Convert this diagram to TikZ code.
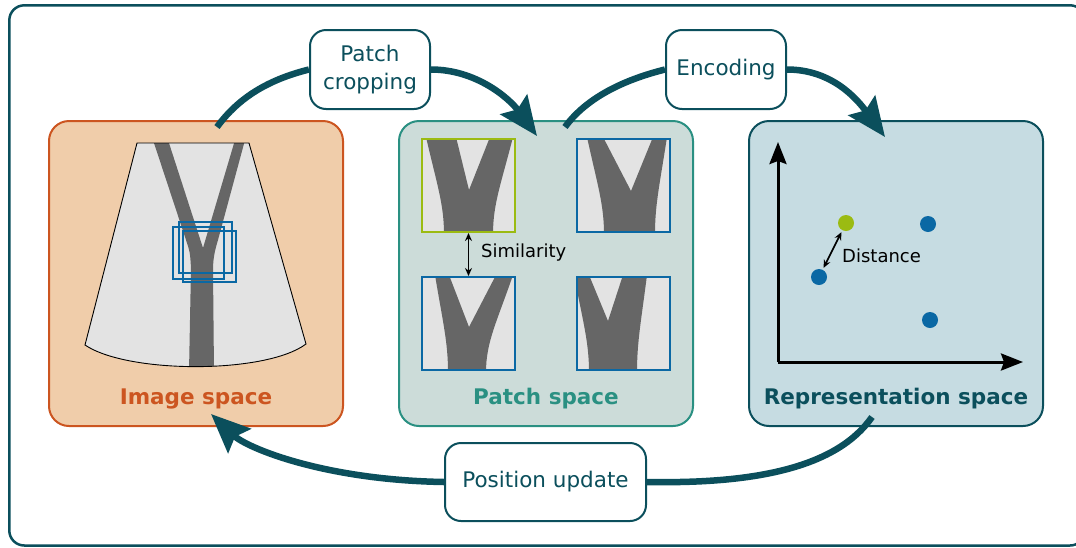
\documentclass[tikz,border=0pt]{standalone}
\usepackage{fontspec}
\setmainfont{DejaVu Sans}
\usetikzlibrary{arrows.meta}

\definecolor{deepteal}{HTML}{0B4F5C}
\definecolor{rust}{HTML}{CC5520}
\definecolor{peach}{HTML}{F0CDAA}
\definecolor{seagreen}{HTML}{2A9082}
\definecolor{mistgreen}{HTML}{CCDCD9}
\definecolor{mistblue}{HTML}{C6DCE2}
\definecolor{lime}{HTML}{9BBB12}
\definecolor{ocean}{HTML}{0A68A4}
\definecolor{vesselgrey}{HTML}{666666}
\definecolor{tissue}{HTML}{E3E3E3}

\tikzset{
  spacebox/.style={rounded corners=20pt, line width=2pt, minimum width=294pt,
    minimum height=305pt, inner sep=0pt},
  stepbox/.style={draw=deepteal, fill=white, rounded corners=16pt, line width=2pt,
    inner sep=0pt, text=deepteal, align=center,
    font=\fontsize{21.5}{28}\selectfont},
  title/.style={anchor=base, font=\fontsize{21.5}{26}\selectfont\bfseries},
  flow/.style={draw=deepteal, line width=6.5pt},
  bigtip/.style={-{Stealth[length=39pt,width=33pt,inset=6pt]}},
  patchframe/.style={draw, line width=2pt, minimum size=93pt, inner sep=0pt},
  vessel/.style={fill=vesselgrey},
  dbl/.style={{Stealth[length=8pt,width=7pt]}-{Stealth[length=8pt,width=7pt]},
    line width=1.6pt, black},
  axis/.style={-{Stealth[length=22pt,width=17pt,inset=3pt]}, line width=3pt, black},
  dot/.style={circle, minimum size=16pt, inner sep=0pt},
  smalltext/.style={font=\fontsize{18}{22}\selectfont, text=black, inner sep=0pt},
}

% one cropped patch: a/b = left branch outer/inner top, (cx,cy) = crotch,
% c/d = right branch inner/outer top, e/f = stem bottom left/right
\newcommand{\vpatch}[8]{%
  \fill[tissue] (0,0) rectangle (93,93);
  \begin{scope}
    \clip (0,0) rectangle (93,93);
    \fill[vessel] (#1,-2) .. controls ({#1+0.6*(#7-#1)},45) and (#7,65) .. (#7,95)
      -- (#8,95) .. controls (#8,65) and ({#6+0.6*(#8-#6)},45) .. (#6,-2)
      -- (#5,-2) -- (#3,#4) -- (#2,-2) -- cycle;
  \end{scope}}

\begin{document}
\begin{tikzpicture}[x=1pt, y=-1pt]
\useasboundingbox (0,0) rectangle (1076,547);

% outer frame
\draw[deepteal, line width=2.5pt, rounded corners=15pt] (9.3,5.3) rectangle (1085,545.5);

% the three spaces
\node[spacebox, draw=rust, fill=peach] (img) at (196,273.5) {};
\node[spacebox, draw=seagreen, fill=mistgreen] (pat) at (546,273.5) {};
\node[spacebox, draw=deepteal, fill=mistblue] (rep) at (896,273.5) {};

\node[title, text=rust] (imgtitle) at (196,404) {Image space};
\node[title, text=seagreen] (pattitle) at (546,404) {Patch space};
\node[title, text=deepteal] (reptitle) at (896,404) {Representation space};

% ultrasound fan with the branching vessel
\begin{scope}
  \clip (137,143) -- (249,143) -- (306,344) .. controls (266,374) and (128,374) .. (85,345) -- cycle;
  \fill[tissue] (0,0) rectangle (400,400);
  \fill[vessel] (153,140) -- (186,240) .. controls (190,252) .. (191,268) -- (189,372)
    -- (214,372) -- (213,270) .. controls (213,258) and (215,250) .. (218,240)
    -- (245,140) -- (235,140) -- (203,248) -- (168,140) -- cycle;
\end{scope}
\draw[black, line width=0.9pt] (137,143) -- (249,143) -- (306,344)
  .. controls (266,374) and (128,374) .. (85,345) -- cycle;

% crop windows on the image
\draw[ocean, line width=1.6pt] (179,222) rectangle (232,273);
\draw[ocean, line width=1.6pt] (173,227) rectangle (224,279);
\draw[ocean, line width=1.6pt] (183,231) rectangle (236,282);

% patches
\begin{scope}[shift={(422,139)}] \vpatch{4}{34}{47}{51}{68}{91}{22}{71} \end{scope}
\begin{scope}[shift={(577,139)}] \vpatch{10}{26}{54}{52}{76}{90}{27}{78} \end{scope}
\begin{scope}[shift={(422,277)}] \vpatch{13}{27}{47}{50}{74}{91}{26}{64} \end{scope}
\begin{scope}[shift={(577,277)}] \vpatch{-3}{12}{31}{44}{46}{70}{12}{60} \end{scope}
\node[patchframe, draw=lime] (p1) at (468.5,185.5) {};
\node[patchframe, draw=ocean] (p2) at (623.5,185.5) {};
\node[patchframe, draw=ocean] (p3) at (468.5,323.5) {};
\node[patchframe, draw=ocean] (p4) at (623.5,323.5) {};

\draw[dbl] (p1.south) -- (p3.north);
\node[smalltext, anchor=west] (simlabel) at (481,253) {Similarity};

% representation space
\coordinate (orig) at (778,362);
\coordinate (ytip) at (778,142);
\coordinate (xtip) at (1023,362);
\draw[axis] (orig) -- (ytip);
\draw[axis] (orig) -- (xtip);

\node[dot, fill=lime] (g) at (846,223) {};
\node[dot, fill=ocean] (b1) at (819,277) {};
\node[dot, fill=ocean] (b2) at (928,224) {};
\node[dot, fill=ocean] (b3) at (930,320) {};
\draw[dbl, shorten <=2pt, shorten >=2pt] (g) -- (b1);
\node[smalltext, anchor=west] (distlabel) at (842,256) {Distance};

% process steps
\node[stepbox, minimum width=120pt, minimum height=79pt] (crop) at (370,69.5) {Patch\\cropping};
\node[stepbox, minimum width=120pt, minimum height=79pt] (enc) at (726,69.5) {Encoding};
\node[stepbox, minimum width=201pt, minimum height=78pt] (pos) at (545.5,482) {Position update};

\coordinate (imgout) at (217,127);
\coordinate (patin) at (537,136);
\coordinate (patout) at (565,127);
\coordinate (repin) at (885,137);
\coordinate (repout) at (872,417);
\coordinate (imgin) at (211,414);

\draw[flow] (imgout) .. controls +(22,-30) and +(-40,10) .. (crop.west);
\draw[flow, bigtip] (crop.east) .. controls +(45,0) and +(-28,-38) .. (patin);
\draw[flow] (patout) .. controls +(22,-30) and +(-40,10) .. (enc.west);
\draw[flow, bigtip] (enc.east) .. controls +(45,0) and +(-28,-38) .. (repin);
\draw[flow] (repout) .. controls +(-35,50) and +(110,2) .. (pos.east);
\draw[flow, bigtip] (pos.west) .. controls +(-120,-2) and +(36,34) .. (imgin);

\end{tikzpicture}
\end{document}
